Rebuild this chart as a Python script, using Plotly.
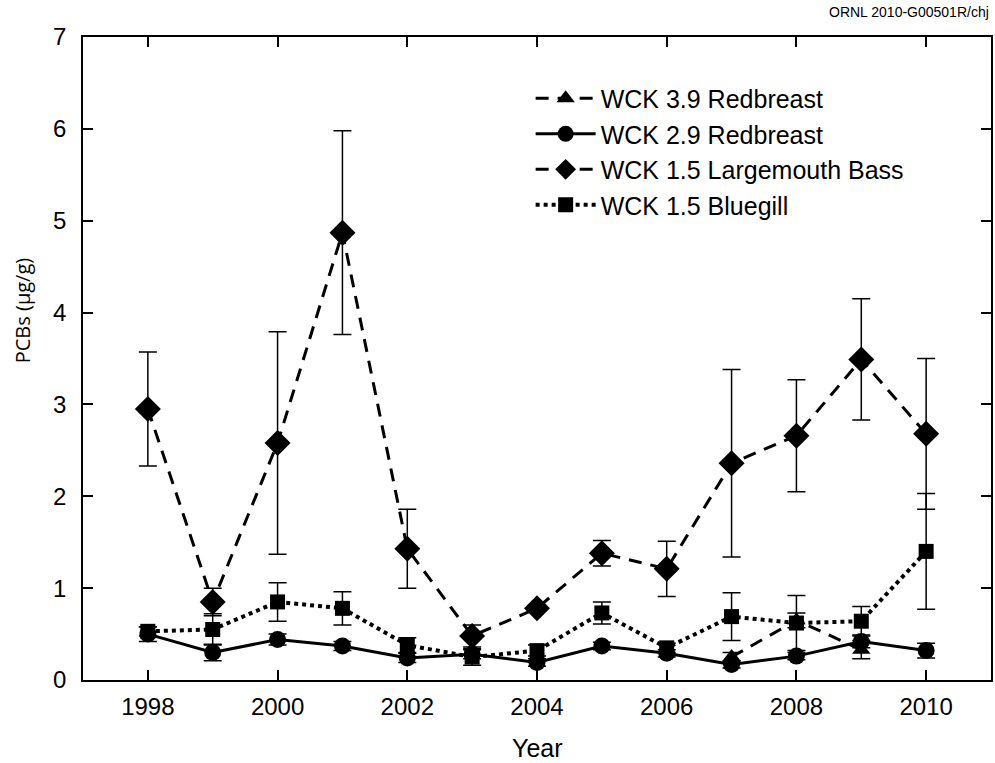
import plotly.graph_objects as go

years = [1998, 1999, 2000, 2001, 2002, 2003, 2004, 2005, 2006, 2007, 2008, 2009, 2010]

# WCK 3.9 Redbreast (only sampled 2007-2009)
rb39_years = [2007, 2008, 2009]
rb39_vals = [0.25, 0.65, 0.33]
rb39_err = [0.05, 0.08, 0.10]

# WCK 2.9 Redbreast
rb29_vals = [0.50, 0.30, 0.44, 0.37, 0.24, 0.28, 0.19, 0.37, 0.29, 0.17, 0.26, 0.42, 0.32]
rb29_err = [0.08, 0.09, 0.06, 0.05, 0.05, 0.05, 0.04, 0.04, 0.04, 0.04, 0.04, 0.07, 0.08]

# WCK 1.5 Largemouth Bass
lmb_vals = [2.95, 0.85, 2.58, 4.87, 1.43, 0.48, 0.78, 1.38, 1.21, 2.36, 2.66, 3.49, 2.68]
lmb_err = [0.62, 0.15, 1.21, 1.11, 0.43, 0.12, 0.03, 0.14, 0.30, 1.02, 0.61, 0.66, 0.82]

# WCK 1.5 Bluegill
bg_vals = [0.53, 0.55, 0.85, 0.78, 0.38, 0.25, 0.32, 0.73, 0.35, 0.69, 0.62, 0.64, 1.40]
bg_err = [0.05, 0.17, 0.21, 0.18, 0.08, 0.09, 0.06, 0.12, 0.05, 0.26, 0.30, 0.16, 0.63]

x_ticks = [1998, 2000, 2002, 2004, 2006, 2008, 2010]
y_ticks = [0, 1, 2, 3, 4, 5, 6, 7]

BLACK = "#000000"

def err(vals):
    return dict(type="data", array=vals, visible=True, color=BLACK, thickness=1.5, width=9)

fig = go.Figure()

fig.add_trace(go.Scatter(
    x=rb39_years, y=rb39_vals, name="WCK 3.9 Redbreast", mode="lines+markers",
    line=dict(color=BLACK, width=3, dash="13px,9px"),
    marker=dict(symbol="triangle-up", size=16, color=BLACK),
    error_y=err(rb39_err)))

fig.add_trace(go.Scatter(
    x=years, y=rb29_vals, name="WCK 2.9 Redbreast", mode="lines+markers",
    line=dict(color=BLACK, width=3),
    marker=dict(symbol="circle", size=17, color=BLACK),
    error_y=err(rb29_err)))

fig.add_trace(go.Scatter(
    x=years, y=lmb_vals, name="WCK 1.5 Largemouth Bass", mode="lines+markers",
    line=dict(color=BLACK, width=3, dash="13px,9px"),
    marker=dict(symbol="diamond", size=20, color=BLACK),
    error_y=err(lmb_err)))

fig.add_trace(go.Scatter(
    x=years, y=bg_vals, name="WCK 1.5 Bluegill", mode="lines+markers",
    line=dict(color=BLACK, width=4, dash="dot"),
    marker=dict(symbol="square", size=15, color=BLACK),
    error_y=err(bg_err)))

fig.update_layout(
    width=995, height=763,
    margin=dict(l=83, r=2, t=37, b=83),
    paper_bgcolor="white", plot_bgcolor="white",
    font=dict(family="Liberation Sans, Arial, sans-serif", color=BLACK),
    showlegend=True,
    legend=dict(x=0.493, y=0.94, xanchor="left", yanchor="top",
                font=dict(size=25), bgcolor="rgba(0,0,0,0)",
                tracegroupgap=0, itemwidth=60),
    xaxis=dict(range=[1997, 2011], tickvals=x_ticks, ticks="inside", ticklen=10,
               tickwidth=1.5, tickcolor=BLACK, showline=True, linecolor=BLACK,
               linewidth=1.5, mirror="ticks", showgrid=False, zeroline=False,
               tickfont=dict(size=24), ticklabelstandoff=4),
    yaxis=dict(range=[0, 7], tickvals=y_ticks, ticks="inside", ticklen=10,
               tickwidth=1.5, tickcolor=BLACK, showline=True, linecolor=BLACK,
               linewidth=1.5, mirror="ticks", showgrid=False, zeroline=False,
               tickfont=dict(size=24), ticklabelstandoff=10),
)

fig.add_annotation(text="Year", xref="paper", yref="paper", x=0.5, y=0,
                   xanchor="center", yanchor="middle", yshift=-68,
                   showarrow=False, font=dict(size=25, color=BLACK))

fig.add_annotation(text="PCBs (µg/g)", xref="paper", yref="paper", x=0, y=0.575,
                   xanchor="center", yanchor="middle", xshift=-61, textangle=-90,
                   showarrow=False, font=dict(size=20, color=BLACK, family="Open Sans, sans-serif"))

fig.add_annotation(text="ORNL 2010-G00501R/chj", xref="paper", yref="paper",
                   x=1.0, y=1.0, xanchor="right", yanchor="middle", yshift=25,
                   showarrow=False, font=dict(size=14, color=BLACK))

fig.write_html("out.html")
